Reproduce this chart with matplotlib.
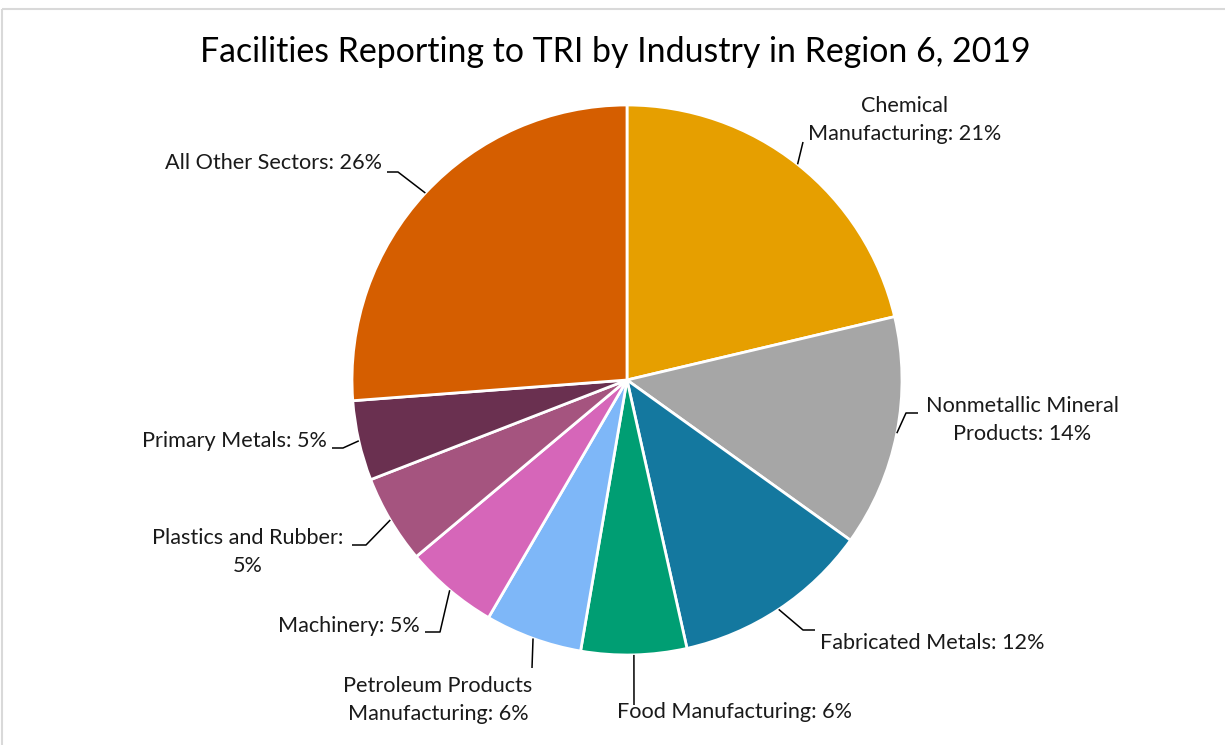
import matplotlib
matplotlib.use("Agg")
import matplotlib.pyplot as plt
import numpy as np

# ---- data ----
categories = ["Chemical Manufacturing", "Nonmetallic Mineral Products", "Fabricated Metals",
              "Food Manufacturing", "Petroleum Products Manufacturing", "Machinery",
              "Plastics and Rubber", "Primary Metals", "All Other Sectors"]
shares = [21.3, 13.6, 11.6, 6.2, 5.7, 5.5, 5.2, 4.7, 26.2]
label_texts = ["Chemical\nManufacturing: 21%", "Nonmetallic Mineral\nProducts: 14%",
               "Fabricated Metals: 12%", "Food Manufacturing: 6%",
               "Petroleum Products\nManufacturing: 6%", "Machinery: 5%",
               "Plastics and Rubber:\n5%", "Primary Metals: 5%", "All Other Sectors: 26%"]
colors = ["#E69F00", "#A6A6A6", "#14789F", "#009E73", "#7EB7F8", "#D666B9",
          "#A5547F", "#6A3050", "#D55E00"]
title = "Facilities Reporting to TRI by Industry in Region 6, 2019"

# ---- layout (pixel coords, y from top) ----
W, H = 1225, 745
cx, cy, R = 627, 380, 275
# elbow points of leader lines (None = straight) , end of line, text pos, ha
layout = [
    (None, (803, 142), (905, 120), "center"),
    ((906, 413), (918, 413), (1022, 420), "center"),
    ((803, 630), (815, 630), (820, 643), "left"),
    (None, (634, 705), (617, 712), "left"),
    (None, (532, 668), (438, 700), "center"),
    ((440, 632), (425, 632), (420, 626), "right"),
    ((366, 545), (352, 545), (248, 552), "center"),
    ((343, 448), (332, 448), (327, 441), "right"),
    ((398, 172), (387, 172), (382, 163), "right"),
]

FONT = ["Lato", "DejaVu Sans"]

def Y(y):
    return H - y

fig = plt.figure(figsize=(W / 100, H / 100), dpi=100)
ax = fig.add_axes([0, 0, 1, 1])
ax.set_xlim(0, W)
ax.set_ylim(0, H)
ax.axis("off")

wedges, _ = ax.pie(shares, colors=colors, startangle=90, counterclock=False,
                   center=(cx, Y(cy)), radius=R, frame=True,
                   wedgeprops=dict(edgecolor="white", linewidth=2.0))
ax.set_xlim(0, W)
ax.set_ylim(0, H)
ax.set_aspect("equal")
ax.axis("off")

# border
ax.plot([2, W], [Y(8.5), Y(8.5)], color="#D9D9D9", lw=1.5, solid_capstyle="butt")
ax.plot([2, 2], [Y(8.5), 0], color="#D9D9D9", lw=1.5, solid_capstyle="butt")

fig.canvas.draw()
renderer = fig.canvas.get_renderer()

def fit_size(text, target_px, **kw):
    t = fig.text(0, 0, text, fontsize=10, family=FONT, **kw)
    w = t.get_window_extent(renderer).width
    t.remove()
    return 10 * target_px / w

title_size = fit_size(title, 830)
label_size = fit_size("All Other Sectors: 26%", 217)

fig.text(615 / W, 1 - 52 / H, title, fontsize=title_size, family=FONT,
         ha="center", va="center", color="#000000")

for w, lab, (elbow, end, tpos, ha) in zip(wedges, label_texts, layout):
    mid = np.deg2rad((w.theta1 + w.theta2) / 2)
    ax_, ay_ = cx + R * np.cos(mid), Y(cy) + R * np.sin(mid)
    xs = [ax_]
    ys = [ay_]
    if elbow is not None:
        xs.append(elbow[0]); ys.append(Y(elbow[1]))
    xs.append(end[0]); ys.append(Y(end[1]))
    ax.plot(xs, ys, color="black", lw=1.1, solid_capstyle="butt")
    ax.text(tpos[0], Y(tpos[1]), lab, fontsize=label_size, family=FONT,
            ha=ha, va="center", multialignment="center", linespacing=1.45,
            color="#1a1a1a")

fig.savefig("out.png", dpi=100, facecolor="white")
